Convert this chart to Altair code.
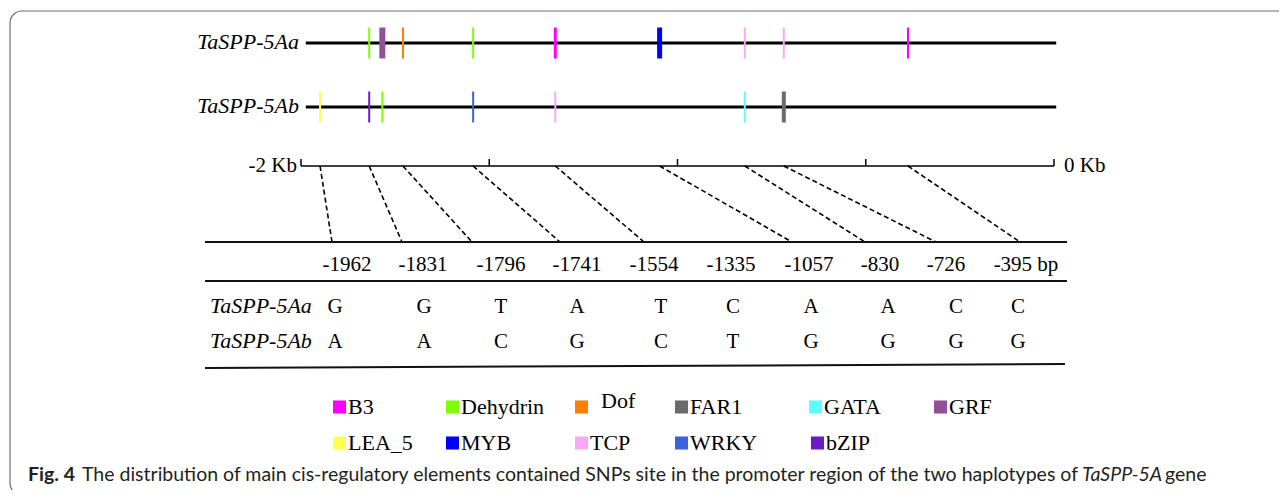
import altair as alt
import pandas as pd

# ---------------- data ----------------
haplotypes = ["TaSPP-5Aa", "TaSPP-5Ab"]
snp_positions = [-1962, -1831, -1796, -1741, -1554, -1335, -1057, -830, -726, -395]
snp_labels = ["-1962", "-1831", "-1796", "-1741", "-1554", "-1335", "-1057", "-830", "-726", "-395 bp"]
alleles_5Aa = ["G", "G", "T", "A", "T", "C", "A", "A", "C", "C"]
alleles_5Ab = ["A", "A", "C", "G", "C", "T", "G", "G", "G", "G"]

elem_5Aa_types = ["Dehydrin", "GRF", "Dof", "Dehydrin", "B3", "MYB", "TCP", "TCP", "B3"]
elem_5Aa_pos = [-1831, -1796, -1741, -1554, -1335, -1057, -830, -726, -395]
elem_5Ab_types = ["LEA_5", "bZIP", "Dehydrin", "WRKY", "TCP", "GATA", "FAR1"]
elem_5Ab_pos = [-1962, -1831, -1796, -1554, -1335, -830, -726]

linked_snps = [-1962, -1831, -1741, -1554, -1335, -1057, -830, -726, -395]
scale_ticks_bp = [-2000, -1500, -1000, -500, 0]
scale_labels = ["-2 Kb", "0 Kb"]

element_types = ["B3", "Dehydrin", "Dof", "FAR1", "GATA", "GRF",
                 "LEA_5", "MYB", "TCP", "WRKY", "bZIP"]
caption_bold = "Fig. 4"
caption_text = ("The distribution of main cis-regulatory elements contained SNPs site "
                "in the promoter region of the two haplotypes of")
caption_italic = "TaSPP-5A"
caption_end = "gene"

# ---------------- styles / layout ----------------
element_colors = ["#FF00FF", "#80FF00", "#FF8000", "#6B6B6B", "#5CFFFF", "#92509A",
                  "#FFFF55", "#0000FF", "#F7A8F7", "#3A64DC", "#6B1CC4"]
elem_5Aa_widths = [2, 6, 2, 2, 3, 5, 2, 2, 2]
elem_5Ab_widths = [2, 2, 2, 2, 2, 2, 4]

GENE_X0, GENE_X1 = 305.8, 1056.2      # pixel of -2000 bp / 0 bp on gene lines
BAR_X0, BAR_X1 = 301.0, 1054.0        # pixel of -2 Kb / 0 Kb on scale bar
ROW_Y = {"TaSPP-5Aa": 43, "TaSPP-5Ab": 107}
ROW_LABEL_BASE = {"TaSPP-5Aa": 49, "TaSPP-5Ab": 113}
ELEM_HALF = 15.5
BAR_Y = 166
LINK_BOT_Y = 242
link_bottom_x = [332, 402, 472, 560, 644, 792, 865, 936, 1020]
header_x = [347, 423, 501, 577, 654, 731, 809, 880, 946, 1026]
column_x = [335, 424, 501, 577, 661, 733, 811, 888, 956, 1018]
TABLE_ROW_BASE = [313, 348]
legend_rows = [["B3", "Dehydrin", "Dof", "FAR1", "GATA", "GRF"],
               ["LEA_5", "MYB", "TCP", "WRKY", "bZIP"]]
legend_left = [[333, 446, 575, 675, 809, 934], [333, 446, 575, 675, 811]]
legend_cy = [407, 443]
legend_base = [414, 450]

SERIF = "Liberation Serif"
SANS = "Lato"
CAP_SIZE = 19.5

XS = alt.Scale(domain=[8, 1279], nice=False, zero=False)
YS = alt.Scale(domain=[8, 490], nice=False, zero=False, reverse=True)
CS = alt.Scale(domain=element_types, range=element_colors)


def X(f):
    return alt.X(f, type="quantitative", scale=XS, axis=None)


def Y(f):
    return alt.Y(f, type="quantitative", scale=YS, axis=None)


gene_px = f"{GENE_X0} + (datum.bp + 2000) * {(GENE_X1 - GENE_X0) / 2000}"
bar_px = f"{BAR_X0} + (datum.bp + 2000) * {(BAR_X1 - BAR_X0) / 2000}"

layers = []

# rounded frame
frame = alt.Chart(pd.DataFrame({"k": [0]})).mark_rect(
    fill=None, stroke="#6E6E6E", strokeWidth=1.2, cornerRadius=12
).encode(x=alt.value(2), x2=alt.value(1290), y=alt.value(3), y2=alt.value(487))
layers.append(frame)

# gene backbones
bb = pd.DataFrame({"hap": haplotypes, "bp": [-2000, -2000], "bp1": [0, 0],
                   "yc": [ROW_Y[h] for h in haplotypes]})
layers.append(
    alt.Chart(bb).transform_calculate(
        px=gene_px, px1=gene_px.replace("datum.bp", "datum.bp1")
    ).mark_rule(color="black", strokeWidth=3).encode(x=X("px"), x2="px1", y=Y("yc"))
)

# elements
elem = pd.DataFrame({
    "hap": ["TaSPP-5Aa"] * len(elem_5Aa_pos) + ["TaSPP-5Ab"] * len(elem_5Ab_pos),
    "type": elem_5Aa_types + elem_5Ab_types,
    "bp": elem_5Aa_pos + elem_5Ab_pos,
    "w": elem_5Aa_widths + elem_5Ab_widths,
})
elem["yc"] = elem["hap"].map(ROW_Y)
layers.append(
    alt.Chart(elem).transform_calculate(
        px=gene_px, y0=f"datum.yc - {ELEM_HALF}", y1=f"datum.yc + {ELEM_HALF}"
    ).mark_rule().encode(
        x=X("px"), y=Y("y0"), y2="y1",
        color=alt.Color("type:N", scale=CS, legend=None),
        strokeWidth=alt.StrokeWidth("w:Q", scale=None, legend=None),
    )
)

# haplotype labels on gene lines
hl = pd.DataFrame({"hap": haplotypes, "yb": [ROW_LABEL_BASE[h] for h in haplotypes], "xr": [299, 299]})
layers.append(
    alt.Chart(hl).mark_text(align="right", baseline="alphabetic", font=SERIF,
                            fontStyle="italic", fontSize=22, color="black").encode(
        x=X("xr"), y=Y("yb"), text="hap:N")
)

# scale bar
sb = pd.DataFrame({"bp": [-2000], "bp1": [0], "y": [BAR_Y]})
layers.append(
    alt.Chart(sb).transform_calculate(
        px=bar_px, px1=bar_px.replace("datum.bp", "datum.bp1")
    ).mark_rule(color="black", strokeWidth=1.5).encode(x=X("px"), x2="px1", y=Y("y"))
)
tk = pd.DataFrame({"bp": scale_ticks_bp})
layers.append(
    alt.Chart(tk).transform_calculate(
        px=bar_px, y0=f"{BAR_Y - 7}", y1=f"{BAR_Y}"
    ).mark_rule(color="black", strokeWidth=1.5).encode(x=X("px"), y=Y("y0"), y2="y1")
)
sl = pd.DataFrame({"t": scale_labels, "x": [297, 1064], "y": [172, 172], "a": ["right", "left"]})
layers.append(
    alt.Chart(sl[sl.a == "right"]).mark_text(align="right", baseline="alphabetic", font=SERIF,
                                             fontSize=21, color="black").encode(
        x=X("x"), y=Y("y"), text="t:N")
)
layers.append(
    alt.Chart(sl[sl.a == "left"]).mark_text(align="left", baseline="alphabetic", font=SERIF,
                                            fontSize=21, color="black").encode(
        x=X("x"), y=Y("y"), text="t:N")
)

# dashed links
lk = pd.DataFrame({"bp": linked_snps, "xb": link_bottom_x})
layers.append(
    alt.Chart(lk).transform_calculate(
        px=gene_px, y0=f"{BAR_Y}", y1=f"{LINK_BOT_Y}"
    ).mark_rule(color="black", strokeWidth=1.6, strokeDash=[5, 3]).encode(
        x=X("px"), x2="xb", y=Y("y0"), y2="y1")
)

# table rules
tr = pd.DataFrame({"x0": [205, 205, 205], "x1": [1067, 1067, 1065],
                   "y0": [242, 281, 368], "y1": [242, 281, 364]})
layers.append(
    alt.Chart(tr).mark_rule(color="#111", strokeWidth=2).encode(
        x=X("x0"), x2="x1", y=Y("y0"), y2="y1")
)

# header labels
hd = pd.DataFrame({"t": snp_labels, "x": header_x, "y": [271] * len(snp_labels)})
layers.append(
    alt.Chart(hd).mark_text(align="center", baseline="alphabetic", font=SERIF,
                            fontSize=21, color="black").encode(x=X("x"), y=Y("y"), text="t:N")
)

# table rows
rl = pd.DataFrame({"hap": haplotypes, "x": [210, 210], "y": TABLE_ROW_BASE})
layers.append(
    alt.Chart(rl).mark_text(align="left", baseline="alphabetic", font=SERIF,
                            fontStyle="italic", fontSize=22, color="black").encode(
        x=X("x"), y=Y("y"), text="hap:N")
)
al = pd.DataFrame({
    "t": alleles_5Aa + alleles_5Ab,
    "x": column_x + column_x,
    "y": [TABLE_ROW_BASE[0]] * len(alleles_5Aa) + [TABLE_ROW_BASE[1]] * len(alleles_5Ab),
})
layers.append(
    alt.Chart(al).mark_text(align="center", baseline="alphabetic", font=SERIF,
                            fontSize=21, color="black").encode(x=X("x"), y=Y("y"), text="t:N")
)

# legend
lg_rows = []
for r, (names, lefts) in enumerate(zip(legend_rows, legend_left)):
    for n, l in zip(names, lefts):
        is_dof = n == "Dof"
        lg_rows.append({"type": n, "sx": l + 6.5, "tx": l + (26 if is_dof else 15),
                        "cy": legend_cy[r], "by": legend_base[r] - (6 if is_dof else 0)})
lg = pd.DataFrame(lg_rows)
layers.append(
    alt.Chart(lg).mark_square(size=170, opacity=1).encode(
        x=X("sx"), y=Y("cy"), color=alt.Color("type:N", scale=CS, legend=None))
)
layers.append(
    alt.Chart(lg).mark_text(align="left", baseline="alphabetic", font=SERIF,
                            fontSize=22, color="black").encode(x=X("tx"), y=Y("by"), text="type:N")
)

# caption
cap = pd.DataFrame({"t": [caption_bold, caption_text, caption_italic, caption_end],
                    "x": [28, 82, 1082, 1165], "y": [481] * 4,
                    "s": ["b", "n", "i", "n"]})
layers.append(
    alt.Chart(cap[cap.s == "b"]).mark_text(align="left", baseline="alphabetic", font=SANS,
                                           fontWeight="bold", fontSize=CAP_SIZE, color="#231F20").encode(
        x=X("x"), y=Y("y"), text="t:N")
)
layers.append(
    alt.Chart(cap[cap.s == "n"]).mark_text(align="left", baseline="alphabetic", font=SANS,
                                           fontSize=CAP_SIZE, color="#231F20").encode(
        x=X("x"), y=Y("y"), text="t:N")
)
layers.append(
    alt.Chart(cap[cap.s == "i"]).mark_text(align="left", baseline="alphabetic", font=SANS,
                                           fontStyle="italic", fontSize=CAP_SIZE, color="#231F20").encode(
        x=X("x"), y=Y("y"), text="t:N")
)

chart = alt.layer(*layers).properties(
    width=1271, height=482, padding=0, autosize="none", background="white"
).configure_view(stroke=None)

chart.save("out.html", embed_options={"renderer": "svg", "actions": False})
